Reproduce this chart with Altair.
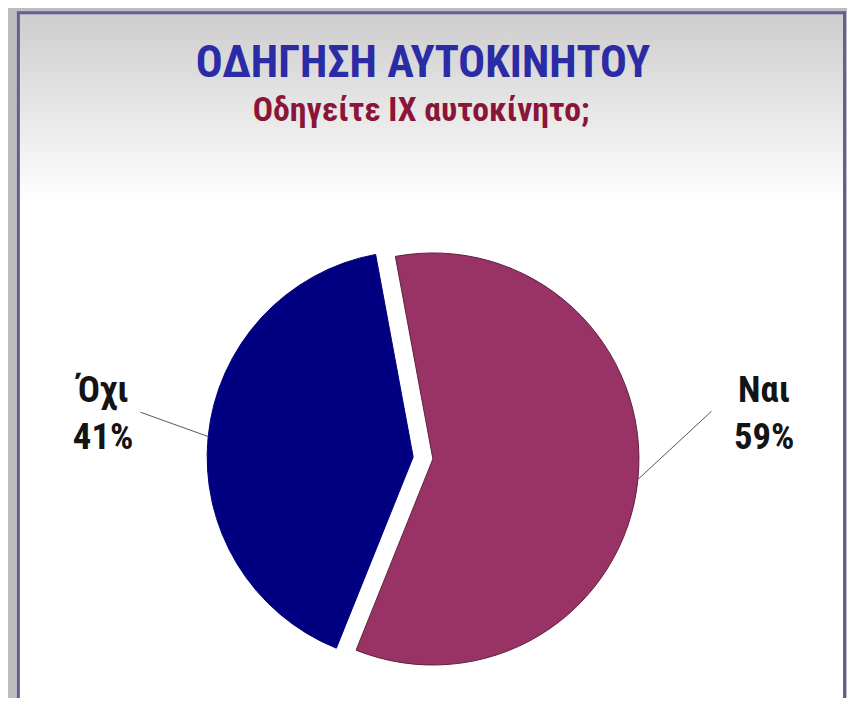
import math
import altair as alt
import pandas as pd

# ---- data ----
categories = ["Ναι", "Όχι"]
values = [59, 41]
slice_colors = ["#993366", "#000080"]
slice_strokes = ["#5c1f3d", "#000080"]
title_text = "ΟΔΗΓΗΣΗ ΑΥΤΟΚΙΝΗΤΟΥ"
subtitle_text = "Οδηγείτε ΙΧ αυτοκίνητο;"

# ---- layout / style ----
W, H = 847, 690
CX, CY = 419, 451          # pie centre (chart px)
R = 208                    # pie radius
EXPLODE = 10               # explode distance
START_DEG = -10.5          # angle where first slice begins
LABEL_ANG = {"Ναι": 80.6, "Όχι": 280.0}
LABEL_R = {"Ναι": 349, "Όχι": 328}
LEAD_END_ANG = {"Ναι": 80.8, "Όχι": 279.2}
LEAD_END_R = {"Ναι": 295, "Όχι": 289}
FONT = "Roboto Condensed, Liberation Sans Narrow, sans-serif"

total = sum(values)
rows = []
cum = 0.0
for c, v in zip(categories, values):
    a0 = START_DEG + cum / total * 360
    a1 = START_DEG + (cum + v) / total * 360
    cum += v
    rows.append(dict(cat=c, value=v, a0=a0, a1=a1, mid=(a0 + a1) / 2,
                     pct=f"{round(v / total * 100)}%"))
df = pd.DataFrame(rows)


def polar(ang_deg, r, ox=0.0, oy=0.0):
    a = math.radians(ang_deg)
    return CX + ox + r * math.sin(a), CY + oy - r * math.cos(a)


layers = []

# background panel with gradient
panel = alt.Chart(alt.Data(values=[{"p": 1}])).mark_rect(
    color=alt.Gradient(gradient="linear", x1=0, y1=0, x2=0, y2=1,
                       stops=[alt.GradientStop(color="#cdcdcd", offset=0),
                              alt.GradientStop(color="#ffffff", offset=0.27),
                              alt.GradientStop(color="#ffffff", offset=1)])
).encode(x=alt.value(11), x2=alt.value(843), y=alt.value(2), y2=alt.value(H + 20))
layers.append(panel)

# panel border (left, top, right)
border_rows = pd.DataFrame([
    dict(x=10.5, x2=10.5, y=0.5, y2=H + 20),
    dict(x=9, x2=846, y=1.5, y2=1.5),
    dict(x=844.5, x2=844.5, y=0.5, y2=H + 20),
])
border = alt.Chart(border_rows).mark_rule(color="#6a5a9c", strokeWidth=3).encode(
    x=alt.X("x:Q", scale=None, axis=None), x2="x2:Q",
    y=alt.Y("y:Q", scale=None, axis=None), y2="y2:Q")
layers.append(border)

# pie slices (exploded)
for r in rows:
    m = math.radians(r["mid"])
    dx, dy = EXPLODE * math.sin(m), -EXPLODE * math.cos(m)
    arc = alt.Chart(df).transform_filter(
        alt.datum.cat == r["cat"]
    ).transform_calculate(
        t0="datum.a0 * PI / 180", t1="datum.a1 * PI / 180"
    ).mark_arc(outerRadius=R, xOffset=dx, yOffset=dy,
               stroke=slice_strokes[categories.index(r["cat"])], strokeWidth=1).encode(
        theta=alt.Theta("t0:Q", scale=None), theta2="t1:Q",
        x=alt.value(CX), y=alt.value(CY),
        color=alt.Color("cat:N", scale=alt.Scale(domain=categories, range=slice_colors),
                        legend=None))
    layers.append(arc)

# leader lines
lead = []
for r in rows:
    m = math.radians(r["mid"])
    ox, oy = EXPLODE * math.sin(m), -EXPLODE * math.cos(m)
    x1, y1 = polar(r["mid"], R, ox, oy)
    x2, y2 = polar(LEAD_END_ANG[r["cat"]], LEAD_END_R[r["cat"]])
    lead.append(dict(x=x1, y=y1, x2=x2, y2=y2))
leaders = alt.Chart(pd.DataFrame(lead)).mark_rule(color="#555555", strokeWidth=1).encode(
    x=alt.X("x:Q", scale=None, axis=None), x2="x2:Q",
    y=alt.Y("y:Q", scale=None, axis=None), y2="y2:Q")
layers.append(leaders)

# slice labels (anchor = first-line baseline)
lab = []
for r in rows:
    lx, ly = polar(LABEL_ANG[r["cat"]], LABEL_R[r["cat"]])
    lab.append(dict(x=lx, y=ly, t=r["cat"] + "\n" + r["pct"]))
labels = alt.Chart(pd.DataFrame(lab)).mark_text(
    font=FONT, fontSize=37, fontWeight="bold", color="#141414",
    lineBreak="\n", lineHeight=48, align="center", baseline="alphabetic"
).encode(x=alt.X("x:Q", scale=None, axis=None),
         y=alt.Y("y:Q", scale=None, axis=None), text="t:N")
layers.append(labels)

# titles
tdf = pd.DataFrame([dict(t=title_text)])
title = alt.Chart(tdf).mark_text(
    font=FONT, fontSize=45, fontWeight="bold", color="#2b2ba6",
    align="center", baseline="alphabetic"
).encode(x=alt.value(419), y=alt.value(66), text="t:N")
sdf = pd.DataFrame([dict(t=subtitle_text)])
subtitle = alt.Chart(sdf).mark_text(
    font=FONT, fontSize=34, fontWeight="bold", color="#8b1538",
    align="center", baseline="alphabetic"
).encode(x=alt.value(417), y=alt.value(111), text="t:N")
layers += [title, subtitle]

chart = alt.layer(*layers).properties(
    width=W, height=H, background="#bdbdbd",
    autosize=alt.AutoSizeParams(type="none"), padding=0
).configure_view(stroke=None)

chart.save("out.html", embed_options={"renderer": "svg", "actions": False})
